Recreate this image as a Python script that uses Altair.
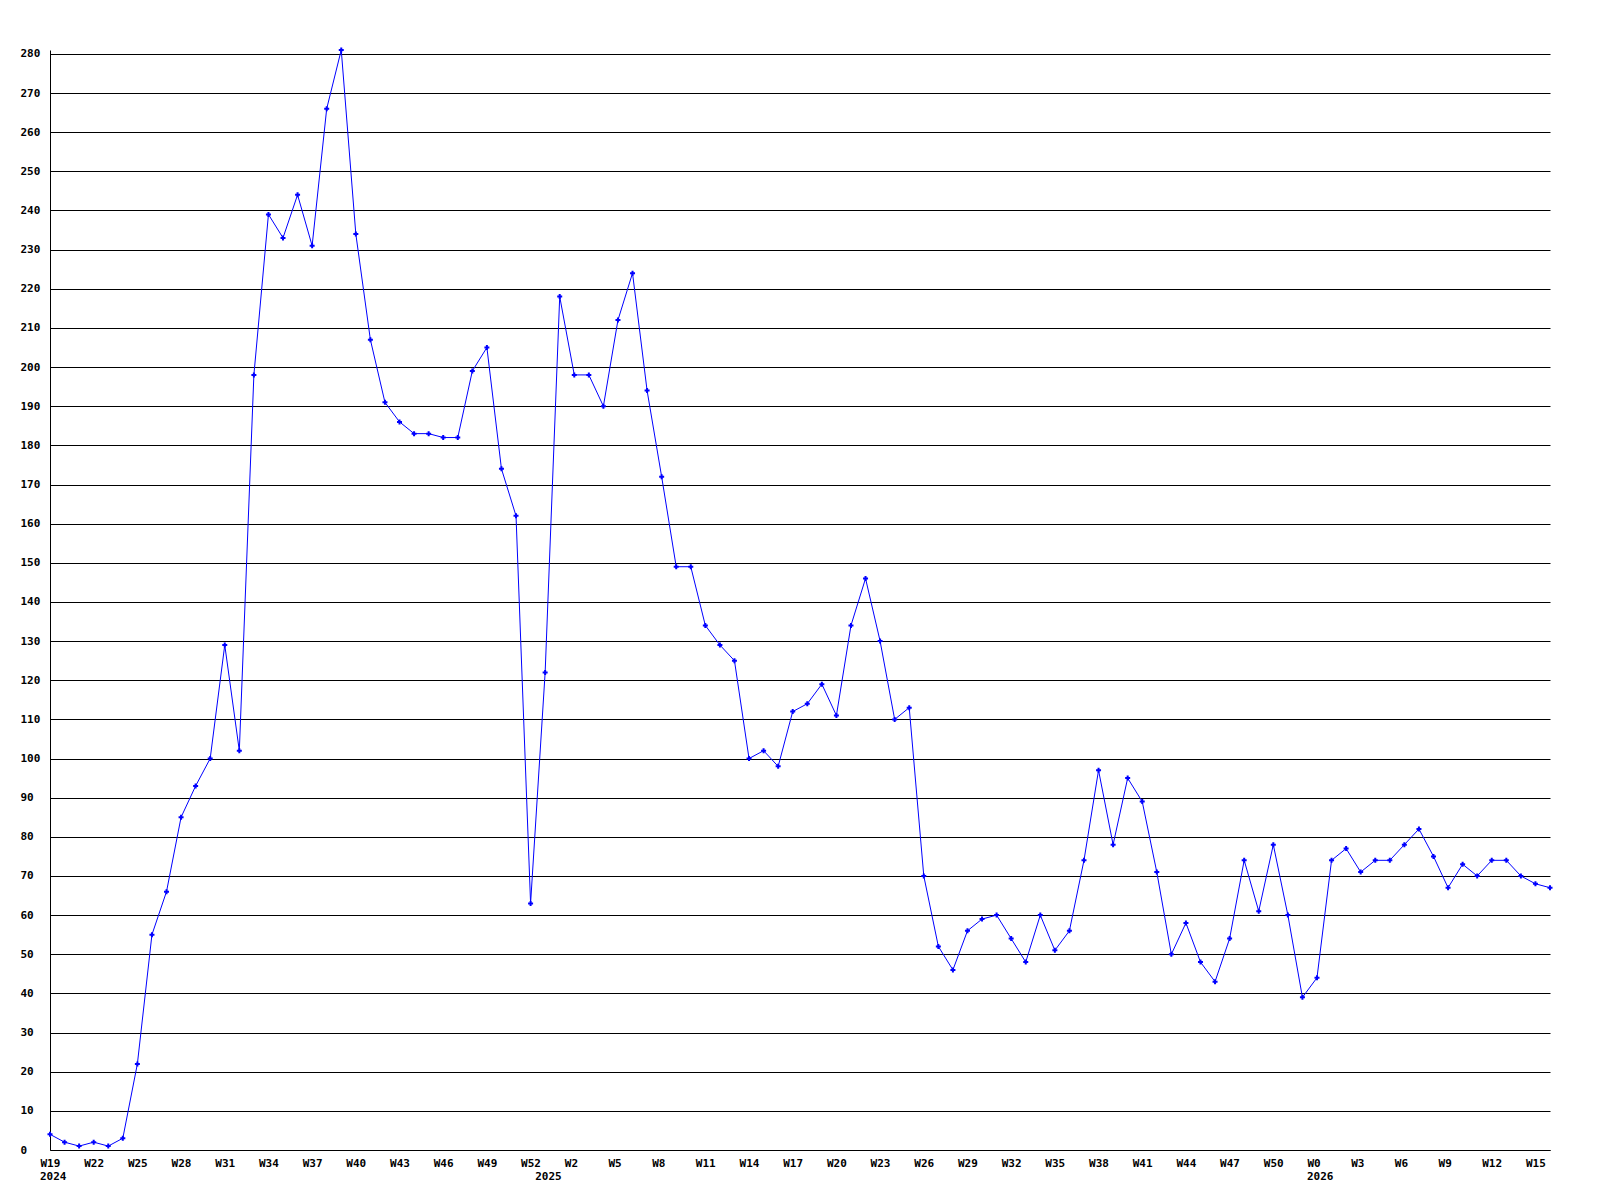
import altair as alt
import pandas as pd

# Weekly values, W19 2024 .. W16 2026
values = [4, 2, 1, 2, 1, 3, 22, 55, 66, 85, 93, 100, 129, 102,
          198, 239, 233, 244, 231, 266, 281, 234, 207, 191, 186,
          183, 183, 182, 182, 199, 205, 174, 162, 63,
          122, 218, 198, 198, 190, 212, 224, 194, 172,
          149, 149, 134, 129, 125, 100, 102, 98,
          112, 114, 119, 111, 134, 146, 130, 110, 113,
          70, 52, 46, 56, 59, 60, 54, 48, 60, 51, 56, 74, 97, 78, 95, 89, 71, 50,
          58, 48, 43, 54, 74, 61, 78, 60, 39, 44,
          74, 77, 71, 74, 74, 78, 82, 75, 67, 73, 70, 74, 74, 70, 68, 67]

week_numbers = list(range(19, 53)) + list(range(0, 53)) + list(range(0, 17))
years = [2024] * 34 + [2025] * 53 + [2026] * 17
y_ticks = list(range(0, 290, 10))

n = len(values)
tick_idx = list(range(0, n, 3))
tick_labels = ["W%d" % week_numbers[i] for i in tick_idx]

df = pd.DataFrame({
    "idx": list(range(n)),
    "value": values,
    "week": ["W%d" % w for w in week_numbers],
    "year": years,
})

year_first = []
seen = set()
for i, yv in enumerate(years):
    if yv not in seen:
        seen.add(yv)
        year_first.append({"idx": i, "label": str(yv)})
year_df = pd.DataFrame(year_first)

FONT = "DejaVu Sans Mono"
label_expr = "[" + ",".join("'%s'" % t for t in tick_labels) + "][round(datum.value/3)]"

x_axis = alt.Axis(
    values=tick_idx, labelExpr=label_expr, title=None, grid=False,
    ticks=False, tickSize=0, labelAlign="left", labelOffset=-10,
    labelBaseline="alphabetic", labelPadding=16, labelFont=FONT,
    labelFontSize=11, labelFontWeight="bold", labelColor="black",
    domainColor="black", domainWidth=1, labelOverlap=False, labelFlush=False,
)
y_axis = alt.Axis(
    values=y_ticks, tickCount=len(y_ticks), title=None, grid=True, gridColor="black",
    gridOpacity=1, gridWidth=1, ticks=False, tickSize=0, labelAlign="left",
    labelPadding=30, labelBaseline="middle", labelFont=FONT, labelFontSize=11,
    labelFontWeight="bold", labelColor="black", domainColor="black",
    domainWidth=1, labelOverlap=False, labelFlush=False,
)
x_scale = alt.Scale(domain=[0, n - 1], nice=False, zero=False)
y_scale = alt.Scale(domain=[0, 281], nice=False, zero=True)

def xe():
    return alt.X("idx:Q", scale=x_scale, axis=x_axis)

def ye():
    return alt.Y("value:Q", scale=y_scale, axis=y_axis)

base = alt.Chart(df)
line = base.mark_line(color="#0000ff", strokeWidth=1).encode(x=xe(), y=ye())
points = base.mark_point(shape="cross", filled=True, size=25, color="#0000ff", opacity=1).encode(
    x=xe(), y=ye())
year_text = alt.Chart(year_df).mark_text(
    align="left", dx=-10, baseline="alphabetic", font=FONT, fontSize=11,
    fontWeight="bold", color="black",
).encode(x=xe(), y=alt.value(1130), text="label:N")

chart = alt.layer(line, points, year_text).properties(
    width=1500, height=1100,
    autosize=alt.AutoSizeParams(type="none"),
    padding={"left": 42, "top": 42, "right": 40, "bottom": 50},
    background="white",
).configure_view(stroke="transparent")

chart.save("out.html", embed_options={"renderer": "svg", "actions": False})
